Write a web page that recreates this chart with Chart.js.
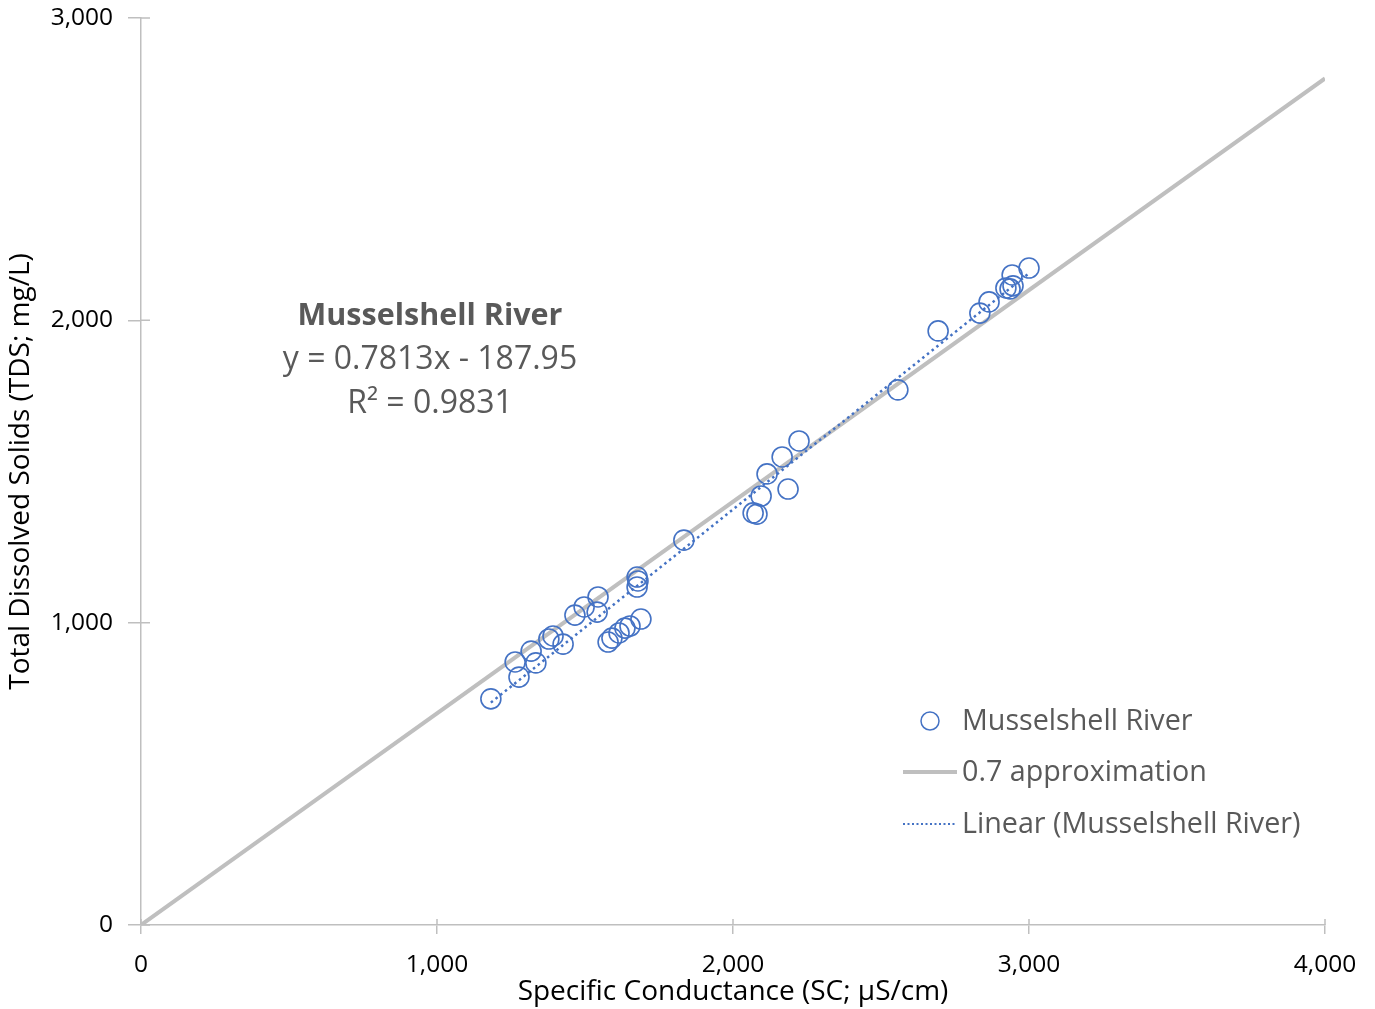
<!DOCTYPE html>
<html>
<head>
<meta charset="utf-8">
<script src="https://cdn.jsdelivr.net/npm/chart.js@4.4.1/dist/chart.umd.min.js"></script>
<style>
  body { margin: 0; background: #fff; }
  #wrap { width: 1375px; height: 1009px; position: relative; }
</style>
</head>
<body>
<div id="wrap"><canvas id="chart"></canvas></div>
<script>
// Musselshell River samples
const scValues = [1182, 1264, 1277, 1318, 1334, 1378, 1392, 1426, 1466, 1497,
                  1544, 1541, 1578, 1591, 1615, 1635, 1652, 1689, 1676, 1679,
                  1676, 1834, 2068, 2081, 2095, 2115, 2166, 2186, 2223, 2557,
                  2693, 2834, 2865, 2922, 2936, 2943, 2946, 3000];
const tdsValues = [748, 870, 820, 906, 867, 946, 956, 929, 1025, 1052,
                   1085, 1035, 936, 949, 966, 982, 989, 1012, 1151, 1138,
                   1118, 1273, 1363, 1359, 1419, 1492, 1548, 1442, 1601, 1770,
                   1965, 2024, 2061, 2107, 2104, 2150, 2114, 2173];

const approxX = [0, 4000];
const approxFactor = 0.7;
const trendSlope = 0.7813;
const trendIntercept = -187.95;
const trendR2 = "0.9831";

const xMin = 0, xMax = 4000, yMin = 0, yMax = 3000, tickStep = 1000;

const seriesName = "Musselshell River";
const approxName = "0.7 approximation";
const trendName = "Linear (Musselshell River)";

const blue = "#4472C4";
const gray = "#BFBFBF";
const textGray = "#595959";
const fontFamily = "'Open Sans', Lato, sans-serif";

const points = scValues.map((x, i) => ({ x: x, y: tdsValues[i] }));
const approxPts = approxX.map(x => ({ x: x, y: x * approxFactor }));
const trendX = [Math.min(...scValues), Math.max(...scValues)];
const trendPts = trendX.map(x => ({ x: x, y: trendSlope * x + trendIntercept }));

const fmt = v => Number(v).toLocaleString("en-US");

// tick marks cross the axis line (inner half drawn here)
const crossTicks = {
  id: "crossTicks",
  beforeDatasetsDraw(chart) {
    const { ctx, chartArea, scales } = chart;
    ctx.save();
    ctx.strokeStyle = gray;
    ctx.lineWidth = 1.5;
    ctx.beginPath();
    scales.x.ticks.forEach(t => {
      const px = scales.x.getPixelForValue(t.value);
      ctx.moveTo(px, chartArea.bottom);
      ctx.lineTo(px, chartArea.bottom - 6);
    });
    scales.y.ticks.forEach(t => {
      const py = scales.y.getPixelForValue(t.value);
      ctx.moveTo(chartArea.left, py);
      ctx.lineTo(chartArea.left + 9, py);
    });
    ctx.stroke();
    ctx.restore();
  }
};

// legend + equation drawn inside the plot
const overlay = {
  id: "overlay",
  afterDraw(chart) {
    const ctx = chart.ctx;
    ctx.save();
    ctx.fillStyle = textGray;
    ctx.textAlign = "center";
    ctx.textBaseline = "middle";
    ctx.font = "bold 30.5px " + fontFamily;
    ctx.fillText(seriesName, 430, 316);
    ctx.font = "32px " + fontFamily;
    ctx.fillText("y = " + trendSlope + "x - " + Math.abs(trendIntercept), 430, 360);
    ctx.fillText("R\u00B2 = " + trendR2, 430, 404);

    // legend
    ctx.textAlign = "left";
    ctx.font = "28.7px " + fontFamily;
    ctx.strokeStyle = blue;
    ctx.lineWidth = 1.5;
    ctx.beginPath();
    ctx.arc(930, 721, 9, 0, Math.PI * 2);
    ctx.stroke();
    ctx.fillText(seriesName, 962, 722);

    ctx.strokeStyle = gray;
    ctx.lineWidth = 4;
    ctx.beginPath();
    ctx.moveTo(903, 772);
    ctx.lineTo(957, 772);
    ctx.stroke();
    ctx.fillText(approxName, 962, 773);

    ctx.strokeStyle = blue;
    ctx.lineWidth = 2;
    ctx.setLineDash([2, 2.5]);
    ctx.beginPath();
    ctx.moveTo(903, 824);
    ctx.lineTo(957, 824);
    ctx.stroke();
    ctx.setLineDash([]);
    ctx.fillText(trendName, 962, 825);
    ctx.restore();
  }
};

new Chart(document.getElementById("chart"), {
  type: "scatter",
  data: {
    datasets: [
      {
        label: approxName,
        data: approxPts,
        showLine: true,
        borderColor: gray,
        borderWidth: 4,
        pointRadius: 0,
        order: 3
      },
      {
        label: trendName,
        data: trendPts,
        showLine: true,
        borderColor: blue,
        borderWidth: 2.5,
        borderDash: [2.5, 3.5],
        pointRadius: 0,
        order: 2
      },
      {
        label: seriesName,
        data: points,
        pointStyle: "circle",
        pointRadius: 10,
        pointBorderWidth: 1.6,
        borderColor: blue,
        backgroundColor: "rgba(0,0,0,0)",
        order: 1
      }
    ]
  },
  options: {
    responsive: true,
    maintainAspectRatio: false,
    animation: false,
    layout: { padding: { top: 18, right: 50, left: 0, bottom: 0 } },
    plugins: {
      legend: { display: false },
      tooltip: { enabled: false }
    },
    scales: {
      x: {
        type: "linear",
        min: xMin, max: xMax,
        ticks: { stepSize: tickStep, callback: fmt, color: "#000", padding: 16,
                 font: { family: fontFamily, size: 24.5 } },
        grid: { drawOnChartArea: false, drawTicks: true, tickLength: 9, color: gray, lineWidth: 1.5 },
        border: { color: gray, width: 1.5 },
        title: { display: true, text: "Specific Conductance (SC; \u00B5S/cm)", color: "#000",
                 font: { family: fontFamily, size: 28 }, padding: { top: 0, bottom: 0 } },
        afterFit: s => { s.height = 84; }
      },
      y: {
        type: "linear",
        min: yMin, max: yMax,
        ticks: { stepSize: tickStep, callback: fmt, color: "#000", padding: 15,
                 font: { family: fontFamily, size: 24.5 } },
        grid: { drawOnChartArea: false, drawTicks: true, tickLength: 13, color: gray, lineWidth: 1.5 },
        border: { color: gray, width: 1.5 },
        title: { display: true, text: "Total Dissolved Solids (TDS; mg/L)", color: "#000",
                 font: { family: fontFamily, size: 28 }, padding: { top: 4, bottom: 0 } },
        afterFit: s => { s.width = 141; s.paddingTop = 0; s.paddingBottom = 0; }
      }
    }
  },
  plugins: [crossTicks, overlay]
});
</script>
</body>
</html>
